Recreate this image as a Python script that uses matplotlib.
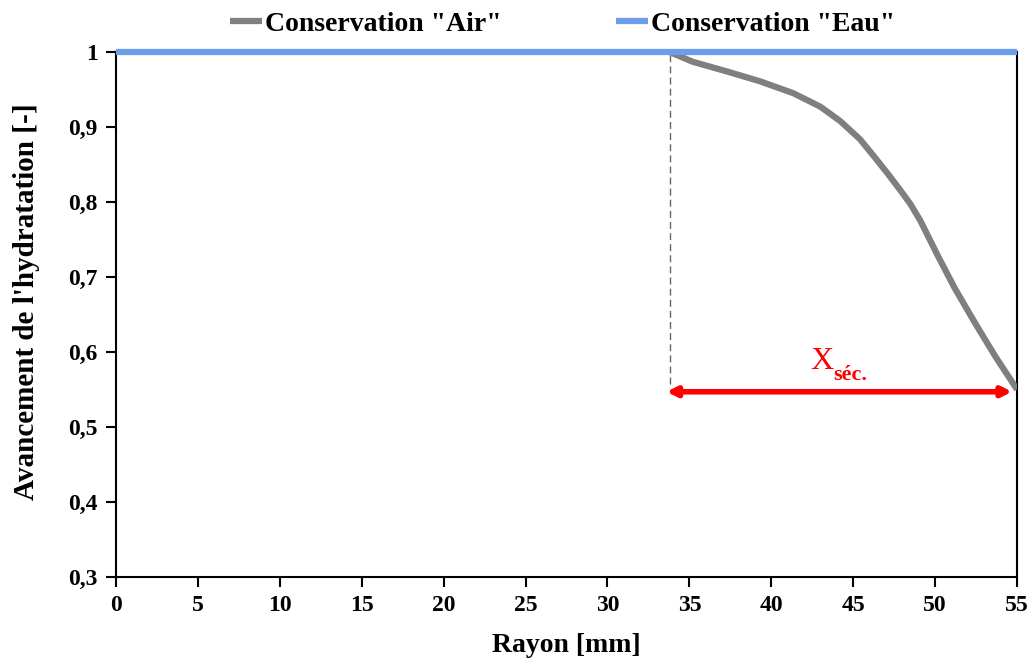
import matplotlib.pyplot as plt
import numpy as np

# Data
rayon_air = [33.8, 35.2, 37.3, 39.3, 41.35, 43.0, 44.2, 45.4, 46.3, 47.1, 47.9,
             48.5, 49.1, 50.15, 51.2, 52.4, 53.65, 55.0]
avancement_air = [1.0, 0.987, 0.974, 0.961, 0.945, 0.927, 0.908, 0.884, 0.860, 0.838, 0.815,
                  0.797, 0.775, 0.729, 0.685, 0.640, 0.595, 0.550]
rayon_eau = [0, 55]
avancement_eau = [1.0, 1.0]

x_sec_start = 33.8
x_sec_end = 55.0
x_sec_level = 0.547

xticks = np.arange(0, 56, 5)
yticks = [0.3, 0.4, 0.5, 0.6, 0.7, 0.8, 0.9, 1.0]
ytick_labels = ['0,3', '0,4', '0,5', '0,6', '0,7', '0,8', '0,9', '1']

plt.rcParams['font.family'] = ['Liberation Serif', 'DejaVu Serif']
plt.rcParams['font.weight'] = 'bold'

fig, ax = plt.subplots(figsize=(10.32, 6.64), dpi=100)
fig.subplots_adjust(left=0.1124, right=0.9855, top=0.9217, bottom=0.131)

ax.plot(rayon_air, avancement_air, color='#7f7f7f', lw=4.5,
        solid_capstyle='butt', solid_joinstyle='round',
        label='Conservation "Air"', zorder=3)
ax.plot(rayon_eau, avancement_eau, color='#6d9eeb', lw=4.5,
        solid_capstyle='butt', label='Conservation "Eau"', zorder=4, clip_on=False)

# dashed marker of the drying front and the X_sec arrow
ax.plot([x_sec_start, x_sec_start], [x_sec_level + 0.01, 1.0], color='#666666',
        lw=1, ls=(0, (5, 3)), zorder=2)
ax.annotate('', xy=(x_sec_start - 0.2, x_sec_level), xytext=(x_sec_end - 0.3, x_sec_level),
            arrowprops=dict(arrowstyle='<|-|>', color='red', lw=4,
                            mutation_scale=14, shrinkA=0, shrinkB=0), zorder=5)
ax.text(43.8, 0.587, 'X', color='red', fontsize=23, fontweight='normal',
        ha='right', va='center')
ax.text(43.8, 0.570, 'séc.', color='red', fontsize=16, fontweight='bold',
        ha='left', va='center')

ax.set_xlim(0, 55)
ax.set_ylim(0.3, 1.0)
ax.set_xticks(xticks)
ax.set_yticks(yticks)
ax.set_yticklabels(ytick_labels)
ax.tick_params(axis='both', direction='out', length=7, width=1.5, labelsize=17, pad=6)
for s in ax.spines.values():
    s.set_linewidth(1.5)

ax.set_xlabel('Rayon [mm]', fontsize=20, fontweight='bold')
ax.set_ylabel("Avancement de l'hydratation [-]", fontsize=21, fontweight='bold')
ax.xaxis.set_label_coords(0.5, -0.106)
ax.yaxis.set_label_coords(-0.084, 0.524)

ax.legend(loc='lower center', bbox_to_anchor=(0.4955, 1.005), ncol=2, frameon=False,
          fontsize=20, handlelength=1.15, handletextpad=0.12, columnspacing=4.1,
          borderaxespad=0.05)

fig.savefig('out.png', dpi=100)
